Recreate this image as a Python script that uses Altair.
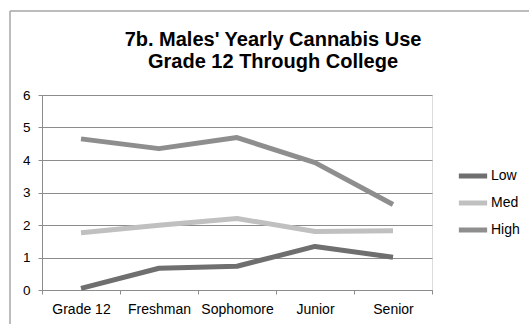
import altair as alt
import pandas as pd

stages = ["Grade 12", "Freshman", "Sophomore", "Junior", "Senior"]
low = [0.05, 0.67, 0.73, 1.34, 1.01]
med = [1.76, 1.99, 2.20, 1.80, 1.82]
high = [4.65, 4.35, 4.69, 3.92, 2.63]
groups = ["Low", "Med", "High"]
colors = ["#6f6f6f", "#c0c0c0", "#8e8e8e"]
title_lines = ["7b. Males' Yearly Cannabis Use", "Grade 12 Through College"]

rows = []
for g, vals in zip(groups, [low, med, high]):
    for s, v in zip(stages, vals):
        rows.append({"stage": s, "group": g, "value": v})
df = pd.DataFrame(rows)

font = "Liberation Sans"

lines = alt.Chart(df).mark_line(strokeWidth=5, strokeCap="butt", strokeJoin="round").encode(
    x=alt.X(
        "stage:N",
        sort=stages,
        bandPosition=0.5,
        scale=alt.Scale(type="band", paddingInner=0, paddingOuter=0),
        axis=alt.Axis(
            title=None, labelAngle=0, tickBand="extent", grid=False,
            domainColor="#8c8c8c", tickColor="#8c8c8c", tickSize=4,
            labelFont=font, labelFontSize=14, labelColor="#000000", labelPadding=8,
        ),
    ),
    y=alt.Y(
        "value:Q",
        scale=alt.Scale(domain=[0, 6], nice=False),
        axis=alt.Axis(
            title=None, values=[0, 1, 2, 3, 4, 5, 6], tickSize=4,
            gridColor="#8c8c8c", gridWidth=1.2, domainColor="#8c8c8c", tickColor="#8c8c8c",
            labelFont=font, labelFontSize=13.5, labelColor="#000000", labelPadding=8,
        ),
    ),
    color=alt.Color(
        "group:N",
        sort=groups,
        scale=alt.Scale(domain=groups, range=colors),
        legend=alt.Legend(
            title=None, orient="none", legendX=414, legendY=64,
            symbolType="stroke", symbolStrokeWidth=5, symbolSize=800,
            labelFont=font, labelFontSize=14, labelColor="#000000",
            labelOffset=1, rowPadding=0,
        ),
    ),
    detail="group:N",
)

one = pd.DataFrame({"k": [0]})

# Two-line heading drawn as a text mark so it sits inside the frame
heading = alt.Chart(one).mark_text(
    font=font, fontSize=20, fontWeight="bold", color="#000000",
    align="center", baseline="alphabetic", lineHeight=21.5,
).encode(
    x=alt.value(231), y=alt.value(-49), text=alt.value(title_lines)
)

frame_left = alt.Chart(one).mark_rule(color="#a6a6a6", strokeWidth=1.5).encode(
    x=alt.value(-32), y=alt.value(-84), y2=alt.value(240)
)
frame_top = alt.Chart(one).mark_rule(color="#a6a6a6", strokeWidth=1.5).encode(
    x=alt.value(-32), x2=alt.value(500), y=alt.value(-84)
)

chart = alt.layer(lines, heading, frame_left, frame_top).properties(
    width=390,
    height=195,
    autosize=alt.AutoSizeParams(type="none"),
    padding={"left": 42, "top": 95, "right": 97, "bottom": 34},
).configure_view(stroke=None).configure(background="#ffffff")

chart.save("out.html", embed_options={"renderer": "svg", "actions": False})
